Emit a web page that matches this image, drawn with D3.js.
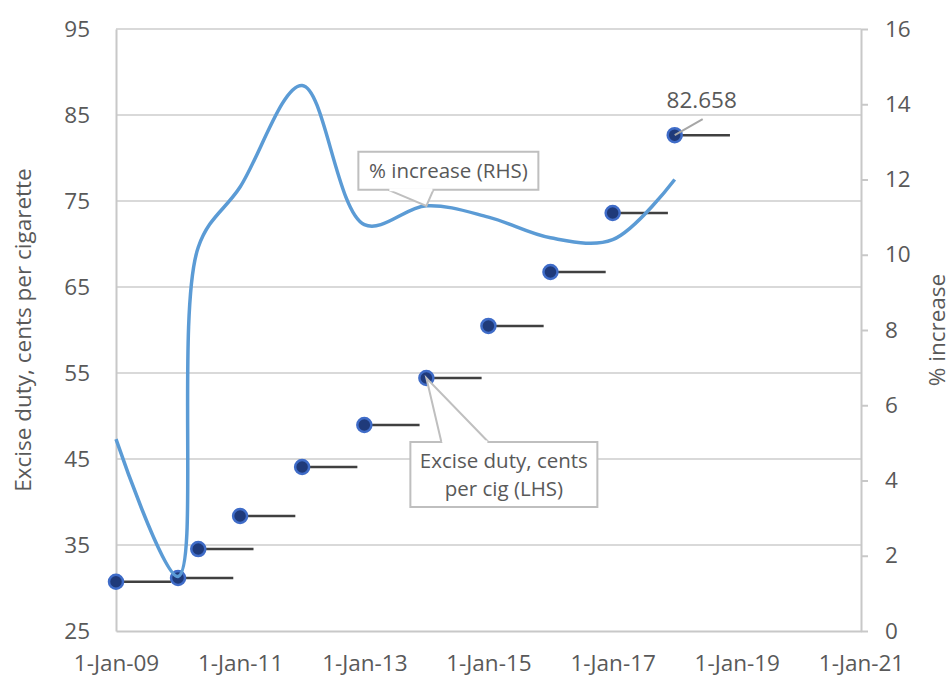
<!DOCTYPE html>
<html>
<head>
<meta charset="utf-8">
<script src="https://cdn.jsdelivr.net/npm/d3@7"></script>
<style>
  html, body { margin: 0; padding: 0; background: #ffffff; }
  svg { display: block; font-family: "Open Sans", sans-serif; }
</style>
</head>
<body>
<svg id="chart" width="951" height="678"></svg>
<script>
// ---------------- data ----------------
const dates = ["2009-01-01","2010-01-01","2010-04-30","2011-01-01","2012-01-01","2013-01-01",
               "2014-01-01","2015-01-01","2016-01-01","2017-01-01","2018-01-01"];
const exciseCents = [30.73, 31.16, 34.53, 38.37, 44.07, 48.95, 54.42, 60.47, 66.74, 73.6, 82.658];
const pctIncrease = [5.1, 1.45, 10.2, 11.8, 14.5, 10.8, 11.3, 11.0, 10.45, 10.4, 12.0];
const errorBarDays = 325;
const xTickDates = ["2009-01-01","2011-01-01","2013-01-01","2015-01-01","2017-01-01","2019-01-01","2021-01-01"];
const leftTicks = [25, 35, 45, 55, 65, 75, 85, 95];
const rightTicks = [0, 2, 4, 6, 8, 10, 12, 14, 16];
const leftTitle = "Excise duty, cents per cigarette";
const rightTitle = "% increase";
const lineCallout = ["% increase (RHS)"];
const pointCallout = ["Excise duty, cents", "per cig (LHS)"];
const calloutIndex = 6;          // both callouts point at 1-Jan-14
const lastLabel = "82.658";

// ---------------- setup ----------------
const parse = d3.utcParse("%Y-%m-%d");
const fmt = d3.utcFormat("%-d-%b-%y");
const dts = dates.map(parse);
const svg = d3.select("#chart");
const M = { left: 116, right: 861, top: 29, bottom: 631 };
const textColor = "#595959";
const tickFont = "22.5px";

const x = d3.scaleUtc().domain([parse("2009-01-01"), parse("2021-01-01")]).range([M.left, M.right]);
const yL = d3.scaleLinear().domain([25, 95]).range([M.bottom, M.top]);
const yR = d3.scaleLinear().domain([0, 16]).range([M.bottom, M.top]);

// gridlines
svg.append("g").selectAll("line").data(leftTicks.slice(1)).join("line")
  .attr("x1", M.left).attr("x2", M.right)
  .attr("y1", d => yL(d)).attr("y2", d => yL(d))
  .attr("stroke", "#d9d9d9").attr("stroke-width", 2);

// left axis
const gL = svg.append("g").attr("transform", `translate(${M.left},0)`)
  .call(d3.axisLeft(yL).tickValues(leftTicks).tickSize(0).tickPadding(26));
gL.select(".domain").attr("stroke", "#c8c8c8").attr("stroke-width", 2);
gL.selectAll("text").attr("fill", textColor).style("font-size", tickFont).style("font-family", "Open Sans");

// right axis
const gR = svg.append("g").attr("transform", `translate(${M.right},0)`)
  .call(d3.axisRight(yR).tickValues(rightTicks).tickSize(7).tickSizeOuter(0).tickPadding(17));
gR.select(".domain").attr("stroke", "#c8c8c8").attr("stroke-width", 2);
gR.selectAll(".tick line").attr("stroke", "#c8c8c8").attr("stroke-width", 2);
gR.selectAll("text").attr("fill", textColor).style("font-size", tickFont).style("font-family", "Open Sans");

// bottom axis
const gB = svg.append("g").attr("transform", `translate(0,${M.bottom})`)
  .call(d3.axisBottom(x).tickValues(xTickDates.map(parse)).tickFormat(fmt).tickSize(0).tickPadding(24));
gB.select(".domain").attr("stroke", "#c8c8c8").attr("stroke-width", 2);
gB.selectAll("text").attr("fill", textColor).style("font-size", tickFont).style("font-family", "Open Sans");

// axis titles
const midY = (M.top + M.bottom) / 2;
svg.append("text").attr("transform", `translate(31,${midY}) rotate(-90)`)
  .attr("text-anchor", "middle").attr("fill", textColor).style("font-size", "22.5px").text(leftTitle);
svg.append("text").attr("transform", `translate(945,${midY}) rotate(-90)`)
  .attr("text-anchor", "middle").attr("fill", textColor).style("font-size", "22.5px").text(rightTitle);

// error bars (plus direction, x)
const pts = dts.map((d, i) => ({ d, v: exciseCents[i], p: pctIncrease[i] }));
svg.append("g").selectAll("line").data(pts).join("line")
  .attr("x1", d => x(d.d)).attr("x2", d => x(d3.utcDay.offset(d.d, errorBarDays)))
  .attr("y1", d => yL(d.v)).attr("y2", d => yL(d.v))
  .attr("stroke", "#404040").attr("stroke-width", 2.5);

// markers
svg.append("g").selectAll("circle").data(pts).join("circle")
  .attr("cx", d => x(d.d)).attr("cy", d => yL(d.v)).attr("r", 7)
  .attr("fill", "#1f3a7a").attr("stroke", "#3f6cc8").attr("stroke-width", 2.5);

// smooth line (RHS)
const line = d3.line().x(d => x(d.d)).y(d => yR(d.p)).curve(d3.curveCatmullRom.alpha(0.5));
svg.append("path").datum(pts).attr("d", line)
  .attr("fill", "none").attr("stroke", "#5b9bd5").attr("stroke-width", 3.5).attr("stroke-linejoin", "round");

// callout helper
function callout(ax, ay, bx, by, bw, bh, w1, w2, lines, lineGap) {
  const g = svg.append("g");
  g.append("path")
    .attr("d", `M${bx},${by} H${bx + bw} V${by + bh} H${bx} Z`)
    .attr("fill", "#ffffff").attr("stroke", "#bfbfbf").attr("stroke-width", 2);
  const edgeY = ay > by ? by + bh : by;
  g.append("path")
    .attr("d", `M${w1},${edgeY} L${ax},${ay} L${w2},${edgeY}`)
    .attr("fill", "#ffffff").attr("stroke", "#bfbfbf").attr("stroke-width", 2);
  g.append("line").attr("x1", w1 + 1).attr("x2", w2 - 1).attr("y1", edgeY).attr("y2", edgeY)
    .attr("stroke", "#ffffff").attr("stroke-width", 3);
  const cy = by + bh / 2 - (lines.length - 1) * lineGap / 2;
  lines.forEach((t, i) => {
    g.append("text").attr("x", bx + bw / 2).attr("y", cy + i * lineGap)
      .attr("dy", "0.35em").attr("text-anchor", "middle").attr("fill", textColor)
      .style("font-size", "20.5px").text(t);
  });
}

// line callout
const cp = pts[calloutIndex];
const lax = x(cp.d), lay = yR(cp.p);
callout(lax, lay, lax - 68, lay - 54, 180, 38, lax - 38, lax + 7, lineCallout, 0);

// point callout
const pax = x(cp.d), pay = yL(cp.v);
callout(pax, pay, pax - 16, pay + 64, 187, 65, pax + 15, pax + 62, pointCallout, 28);

// data label on last point
const lp = pts[pts.length - 1];
const lx = x(lp.d), ly = yL(lp.v);
svg.append("line").attr("x1", lx).attr("y1", ly).attr("x2", lx + 28).attr("y2", ly - 16)
  .attr("stroke", "#a6a6a6").attr("stroke-width", 2);
svg.append("text").attr("x", lx + 27).attr("y", ly - 35).attr("dy", "0.35em")
  .attr("text-anchor", "middle").attr("fill", textColor).style("font-size", "22.5px").text(lastLabel);
</script>
</body>
</html>
